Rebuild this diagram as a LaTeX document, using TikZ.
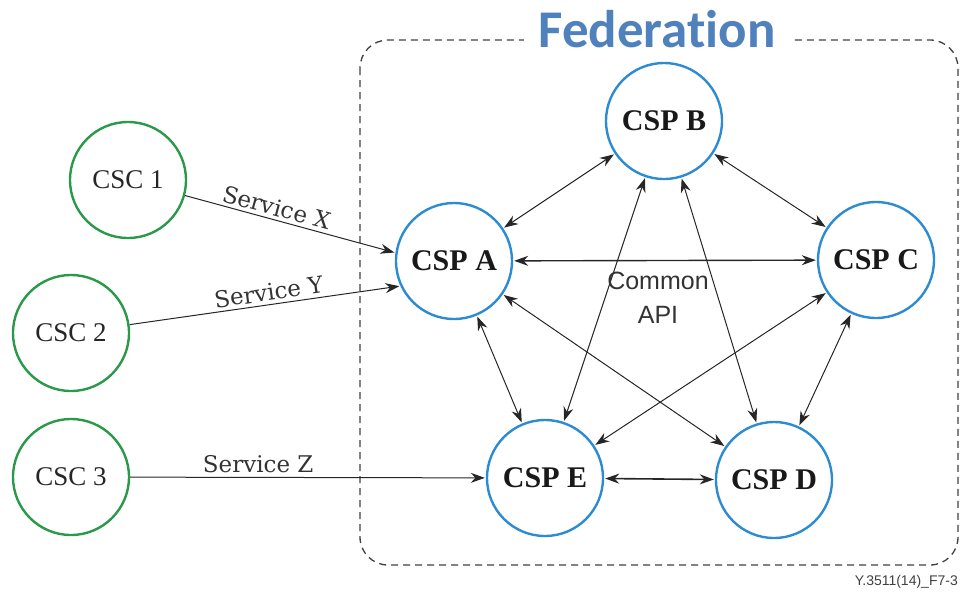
\documentclass[tikz,border=0pt]{standalone}
\usepackage{fontspec}
\setmainfont{Liberation Serif}
\setsansfont{Liberation Sans}
\newfontfamily\fedfont[Ligatures=NoCommon]{Carlito}
\newfontfamily\slabfont{DejaVu Serif}
\usetikzlibrary{arrows.meta}
\definecolor{cscgreen}{HTML}{2A9A4A}
\definecolor{cspblue}{HTML}{2D8BD2}
\definecolor{fedblue}{HTML}{4F81BD}
\tikzset{
  csc/.style={circle,draw=cscgreen,line width=2.4pt,minimum size=116pt,inner sep=0pt,font=\fontsize{27}{30}\selectfont,text=black!85},
  csp/.style={circle,draw=cspblue,line width=2.4pt,minimum size=116pt,inner sep=0pt,font=\fontsize{30}{32}\selectfont\bfseries,text=black!90},
  link/.style={{Stealth[length=14pt,width=10pt]}-{Stealth[length=14pt,width=10pt]},line width=1pt,black!85,shorten <=1pt,shorten >=1pt},
  serv/.style={-{Stealth[length=14pt,width=10pt]},line width=1pt,black!85,shorten >=1pt},
  slab/.style={font=\slabfont\fontsize{23}{25}\selectfont,text=black!80}
}
\begin{document}
\begin{tikzpicture}[x=1pt,y=-1pt]
\useasboundingbox (0,0) rectangle (961,595);
% federation boundary
\draw[black!75,line width=1.3pt,dash pattern=on 7pt off 5pt,rounded corners=28pt] (360,40) rectangle (958,565);
\node[fill=white,inner xsep=14pt,inner ysep=0pt,text=fedblue,font=\fedfont\bfseries\fontsize{53}{58}\selectfont] (fed) at (657,29) {Federation};
% nodes
\node[csc] (c1) at (128,180) {CSC 1};
\node[csc] (c2) at (71,333) {CSC 2};
\node[csc] (c3) at (71,477) {CSC 3};
\node[csp] (A) at (454,261) {CSP A};
\node[csp] (B) at (664,121) {CSP B};
\node[csp] (C) at (876,260) {CSP C};
\node[csp] (D) at (774,480) {CSP D};
\node[csp] (E) at (545,478) {CSP E};
% service arrows
\draw[serv] (c1) -- node[slab,sloped,above=0pt,pos=0.42] {Service X} (A.172);
\draw[serv] (c2) -- node[slab,sloped,above=0pt,pos=0.52] {Service Y} (A.205);
\draw[serv] (c3) -- node[slab,above=1pt,pos=0.36] {Service Z} (E);
% federation links
\draw[link] (A) -- (B);
\draw[link,line width=1.4pt] (A) -- (C);
\draw[link] (A) -- (D);
\draw[link] (A) -- (E);
\draw[link] (B) -- (C);
\draw[link] (B) -- (D);
\draw[link] (B) -- (E);
\draw[link] (C) -- (D);
\draw[link] (C) -- (E);
\draw[link,line width=1.6pt] (E) -- (D);
\node[align=center,font=\sffamily\fontsize{25}{34}\selectfont,text=black!80] (api) at (658,298) {Common\\API};
\node[anchor=base east,inner sep=0pt,font=\sffamily\fontsize{14}{16}\selectfont,text=black!75] (fig) at (958,585) {Y.3511(14)\_F7-3};
\end{tikzpicture}
\end{document}
